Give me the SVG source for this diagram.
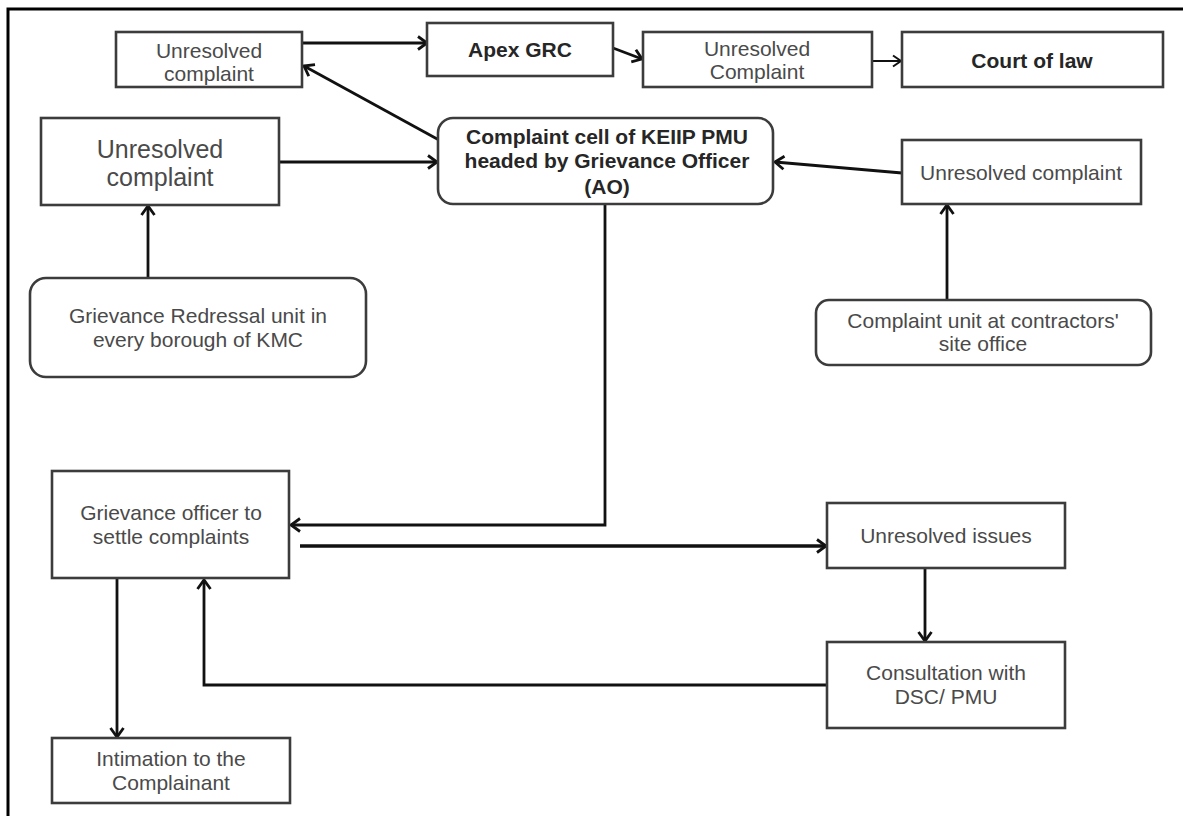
<svg xmlns="http://www.w3.org/2000/svg" width="1183" height="816" viewBox="0 0 1183 816">
<style>
.box{fill:#ffffff;stroke:#3c3c3c;stroke-width:2.6}
.t{font-family:"Liberation Sans",Arial,sans-serif;font-size:21px;fill:#4a4a4a;text-anchor:middle}
.b{font-family:"Liberation Sans",Arial,sans-serif;font-size:21px;font-weight:bold;fill:#262626;text-anchor:middle}
.big{font-size:25px}
.c{fill:none;stroke:#111111;stroke-width:2.8;marker-end:url(#ah)}
.thin{stroke-width:2;marker-end:url(#ahs)}
</style>
<defs>
<marker id="ah" markerUnits="userSpaceOnUse" markerWidth="16" markerHeight="18" refX="11" refY="8" orient="auto">
<path d="M2,1.5 L11,8 L2,14.5" fill="none" stroke="#111111" stroke-width="2.8" stroke-linejoin="miter"/>
</marker>
<marker id="ahs" markerUnits="userSpaceOnUse" markerWidth="14" markerHeight="16" refX="10" refY="7" orient="auto">
<path d="M2,1.5 L10,7 L2,12.5" fill="none" stroke="#111111" stroke-width="2"/>
</marker>
</defs>
<rect x="0" y="0" width="1183" height="816" fill="#ffffff"/>
<path d="M8,830 L8,9 L1190,9" fill="none" stroke="#000000" stroke-width="3"/>

<g id="connectors">
<line class="c" x1="302" y1="43" x2="427" y2="43"/>
<line class="c" x1="613" y1="48" x2="642" y2="59"/>
<line class="c thin" x1="872" y1="61" x2="901" y2="61"/>
<line class="c" x1="439" y1="140" x2="304" y2="66"/>
<line class="c" x1="279" y1="162" x2="437" y2="162"/>
<line class="c" x1="902" y1="173" x2="775" y2="162"/>
<line class="c" x1="148" y1="278" x2="148" y2="206"/>
<line class="c" x1="947" y1="300" x2="947" y2="205"/>
<polyline class="c" points="605,204 605,525 291,525"/>
<line class="c" style="stroke-width:3.4" x1="300" y1="546" x2="826" y2="546"/>
<line class="c" x1="925" y1="568" x2="925" y2="641"/>
<polyline class="c" points="827,685 204,685 204,580"/>
<line class="c" x1="117" y1="578" x2="117" y2="737"/>
</g>

<g id="n1">
<rect class="box" x="116" y="32" width="186" height="55"/>
<text class="t" x="209" y="58">Unresolved</text>
<text class="t" x="209" y="81">complaint</text>
</g>
<g id="apex">
<rect class="box" x="427" y="23" width="186" height="53"/>
<text class="b" x="520" y="57">Apex GRC</text>
</g>
<g id="n3">
<rect class="box" x="643" y="32" width="229" height="55"/>
<text class="t" x="757" y="56">Unresolved</text>
<text class="t" x="757" y="79">Complaint</text>
</g>
<g id="court">
<rect class="box" x="902" y="32" width="261" height="55"/>
<text class="b" x="1032" y="68">Court of law</text>
</g>
<g id="n5">
<rect class="box" x="41" y="118" width="238" height="87"/>
<text class="t big" x="160" y="158">Unresolved</text>
<text class="t big" x="160" y="186">complaint</text>
</g>
<g id="cell">
<rect class="box" x="438" y="118" width="335" height="86" rx="15" ry="15"/>
<text class="b" x="607" y="144">Complaint cell of KEIIP PMU</text>
<text class="b" x="607" y="168">headed by Grievance Officer</text>
<text class="b" x="607" y="194">(AO)</text>
</g>
<g id="n7">
<rect class="box" x="902" y="140" width="239" height="64"/>
<text class="t" x="1021" y="180">Unresolved  complaint</text>
</g>
<g id="gru">
<rect class="box" x="30" y="278" width="336" height="99" rx="16" ry="16"/>
<text class="t" x="198" y="323">Grievance Redressal unit in</text>
<text class="t" x="198" y="347">every borough of KMC</text>
</g>
<g id="cu">
<rect class="box" x="816" y="300" width="335" height="65" rx="13" ry="13"/>
<text class="t" x="983" y="328">Complaint unit at contractors'</text>
<text class="t" x="983" y="351">site office</text>
</g>
<g id="go">
<rect class="box" x="52" y="471" width="237" height="107"/>
<text class="t" x="171" y="520">Grievance officer to</text>
<text class="t" x="171" y="544">settle complaints</text>
</g>
<g id="ui">
<rect class="box" x="827" y="503" width="238" height="65"/>
<text class="t" x="946" y="543">Unresolved  issues</text>
</g>
<g id="cons">
<rect class="box" x="827" y="642" width="238" height="86"/>
<text class="t" x="946" y="680">Consultation  with</text>
<text class="t" x="946" y="704">DSC/ PMU</text>
</g>
<g id="intim">
<rect class="box" x="52" y="738" width="238" height="65"/>
<text class="t" x="171" y="766">Intimation  to the</text>
<text class="t" x="171" y="790">Complainant</text>
</g>
</svg>
